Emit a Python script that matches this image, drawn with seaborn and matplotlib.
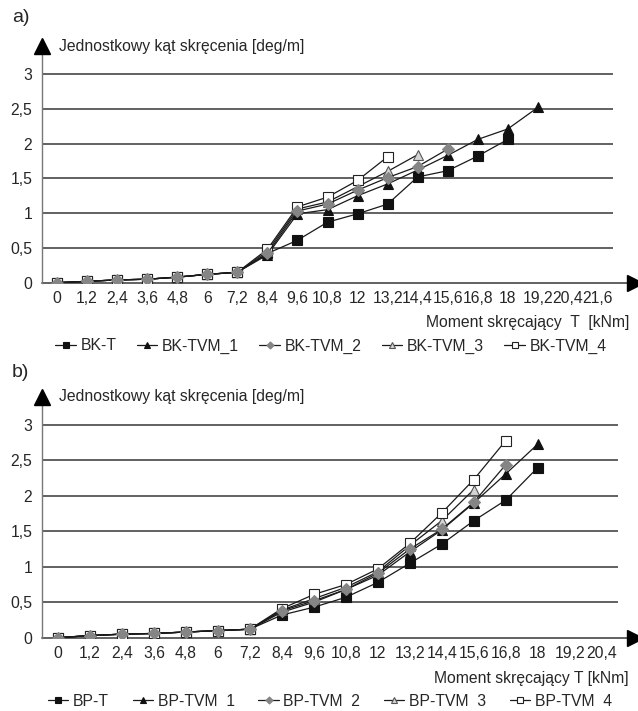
import numpy as np
import seaborn as sns
import matplotlib.pyplot as plt

# --- data ---
top_labels = ["0", "1,2", "2,4", "3,6", "4,8", "6", "7,2", "8,4", "9,6", "10,8",
              "12", "13,2", "14,4", "15,6", "16,8", "18", "19,2", "20,4", "21,6"]
bk_t = [0, 0.02, 0.04, 0.05, 0.08, 0.12, 0.15, 0.42, 0.61, 0.87, 0.99, 1.13,
        1.52, 1.61, 1.82, 2.06]
bk_tvm_1 = [0, 0.02, 0.04, 0.05, 0.08, 0.12, 0.15, 0.40, 0.99, 1.05, 1.25, 1.42,
            1.62, 1.83, 2.06, 2.21, 2.52]
bk_tvm_2 = [0, 0.02, 0.04, 0.05, 0.08, 0.12, 0.15, 0.42, 1.03, 1.13, 1.33, 1.51,
            1.67, 1.92]
bk_tvm_3 = [0, 0.02, 0.04, 0.05, 0.08, 0.12, 0.15, 0.45, 1.06, 1.16, 1.38, 1.60,
            1.84]
bk_tvm_4 = [0, 0.02, 0.04, 0.05, 0.08, 0.12, 0.15, 0.48, 1.09, 1.23, 1.47, 1.81]

bot_labels = ["0", "1,2", "2,4", "3,6", "4,8", "6", "7,2", "8,4", "9,6", "10,8",
              "12", "13,2", "14,4", "15,6", "16,8", "18", "19,2", "20,4"]
bp_t = [0, 0.03, 0.05, 0.06, 0.08, 0.10, 0.12, 0.32, 0.43, 0.57, 0.78, 1.05,
        1.32, 1.65, 1.94, 2.40]
bp_tvm_1 = [0, 0.03, 0.05, 0.06, 0.08, 0.10, 0.12, 0.36, 0.50, 0.68, 0.88, 1.21,
            1.52, 1.90, 2.31, 2.73]
bp_tvm_2 = [0, 0.03, 0.05, 0.06, 0.08, 0.10, 0.12, 0.38, 0.52, 0.68, 0.91, 1.25,
            1.53, 1.91, 2.44]
bp_tvm_3 = [0, 0.03, 0.05, 0.06, 0.08, 0.10, 0.12, 0.39, 0.55, 0.71, 0.93, 1.30,
            1.65, 2.09]
bp_tvm_4 = [0, 0.03, 0.05, 0.06, 0.08, 0.10, 0.12, 0.41, 0.61, 0.75, 0.97, 1.33,
            1.76, 2.23, 2.78]

top_series = [("BK-T", bk_t), ("BK-TVM_1", bk_tvm_1), ("BK-TVM_2", bk_tvm_2),
              ("BK-TVM_3", bk_tvm_3), ("BK-TVM_4", bk_tvm_4)]
bot_series = [("BP-T", bp_t), ("BP-TVM  1", bp_tvm_1), ("BP-TVM  2", bp_tvm_2),
              ("BP-TVM  3", bp_tvm_3), ("BP-TVM  4", bp_tvm_4)]

# marker look per series position (gray diamonds end up on top)
marker_styles = [
    dict(marker="s", markersize=7, markerfacecolor="#111111", markeredgecolor="#111111", zorder=2.1),
    dict(marker="^", markersize=7.5, markerfacecolor="#111111", markeredgecolor="#111111", zorder=2.2),
    dict(marker="D", markersize=6, markerfacecolor="#858585", markeredgecolor="#858585", zorder=2.5),
    dict(marker="^", markersize=7.5, markerfacecolor="#d4d4d4", markeredgecolor="#555555", zorder=2.3),
    dict(marker="s", markersize=7, markerfacecolor="white", markeredgecolor="#222222", zorder=2.4),
]

sns.set_style("white")
plt.rcParams["font.family"] = ["Liberation Sans", "DejaVu Sans"]
FS = 11.3

fig = plt.figure(figsize=(6.38, 7.11), dpi=100)
W, H = 638, 711


def px_axes(left, right, y0, y3):
    # y0 = pixel row of value 0, y3 = pixel row of value 3, ylim up to 3.4
    unit = (y0 - y3) / 3.0
    top = y0 - 3.4 * unit
    return fig.add_axes([left / W, 1 - y0 / H, (right - left) / W, (y0 - top) / H])


def draw_panel(ax, labels, series, xlabel, xlab_y, leg_x, leg_y, colsp, arrow_frac):
    n = len(labels)
    handles = []
    for (name, vals), st in zip(series, marker_styles):
        sns.lineplot(x=np.arange(len(vals)), y=vals, ax=ax, color="#1a1a1a",
                     linewidth=0.9, markeredgewidth=0.8, legend=False, **st)
        handles.append(ax.lines[-1])
    ax.set_xlim(-0.5, n - 0.5)
    ax.set_ylim(0, 3.4)
    ax.set_yticks([0, 0.5, 1, 1.5, 2, 2.5, 3])
    ax.set_yticklabels(["0", "0,5", "1", "1,5", "2", "2,5", "3"], fontsize=FS)
    ax.set_xticks(np.arange(n))
    ax.set_xticklabels(labels, fontsize=FS)
    ax.set_xticks(np.arange(n) + 0.5, minor=True)
    ax.tick_params(axis="x", which="major", length=0, pad=6)
    ax.tick_params(axis="x", which="minor", length=4, color="#666666", width=0.8)
    ax.tick_params(axis="y", length=4, color="#666666", width=0.8, pad=3)
    for yv in [0.5, 1, 1.5, 2, 2.5, 3]:
        ax.axhline(yv, color="#555555", lw=1.3, zorder=0.5)
    for s in ["top", "right", "bottom"]:
        ax.spines[s].set_visible(False)
    ax.spines["left"].set_color("#777777")
    ax.spines["left"].set_linewidth(1.0)
    ax.set_xlabel("")
    ax.set_ylabel("")
    # x axis line with arrow
    ax.plot([0, arrow_frac], [0, 0], transform=ax.transAxes, clip_on=False,
            color="#555555", lw=1.3, zorder=1)
    ax.plot([arrow_frac], [0], transform=ax.transAxes, clip_on=False,
            marker=">", ms=11, color="black", zorder=3)
    ax.plot([0], [1], transform=ax.transAxes, clip_on=False,
            marker="^", ms=11, color="black", zorder=3)
    ax.text(0.03, 1.0, "Jednostkowy kąt skręcenia [deg/m]", transform=ax.transAxes,
            fontsize=FS, va="center", ha="left")
    fig.text(629 / W, 1 - xlab_y / H, xlabel, fontsize=FS, ha="right", va="center")
    fig.legend(handles, [s[0] for s in series], loc="center",
               bbox_to_anchor=(leg_x / W, 1 - leg_y / H), ncol=5, frameon=False,
               fontsize=FS, handlelength=1.3, handletextpad=0.3,
               columnspacing=colsp, markerscale=0.6, borderpad=0, borderaxespad=0)


ax1 = px_axes(42, 613, 282.7, 74)
draw_panel(ax1, top_labels, top_series, "Moment skręcający  T  [kNm]", 322, 331, 346,
           1.3, (635 - 42) / (613 - 42))

ax2 = px_axes(42, 617.7, 637.7, 425)
draw_panel(ax2, bot_labels, bot_series, "Moment skręcający T [kNm]", 678, 330, 701,
           1.5, (635 - 42) / (617.7 - 42))

fig.text(12 / W, 1 - 18 / H, "a)", fontsize=14, va="center", ha="left")
fig.text(12 / W, 1 - 372 / H, "b)", fontsize=14, va="center", ha="left")

fig.savefig("out.png", dpi=100)
